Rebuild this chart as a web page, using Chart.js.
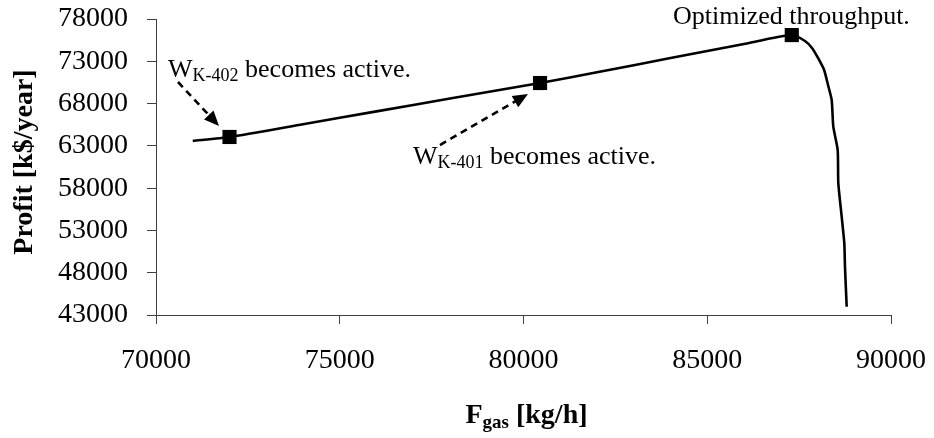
<!DOCTYPE html>
<html>
<head>
<meta charset="utf-8">
<script src="https://cdn.jsdelivr.net/npm/chart.js@4.4.0/dist/chart.umd.min.js"></script>
<style>
  html, body { margin: 0; padding: 0; background: #fff; }
</style>
</head>
<body>
<canvas id="profitChart" width="934" height="438"></canvas>
<script>
// gas feed [kg/h] and profit [k$/year] along the operating curve
var feedGas = [71000, 72000, 74000, 76000, 78000, 80450, 82000, 84000, 86000, 87300,
               87660, 87850, 88014, 88180, 88286, 88386, 88430, 88549, 88566, 88658, 88729, 88748, 88794];
var profit  = [63580, 64050, 65560, 67080, 68600, 70430, 71700, 73380, 75050, 76100,
               75400, 74570, 73390, 71970, 70200, 68420, 65265, 62510, 58608, 54623, 51513, 48711, 43981];

// marked operating points
var markFeed   = [72000, 80450, 87300];
var markProfit = [64050, 70430, 76100];

var xTicks = [70000, 75000, 80000, 85000, 90000];
var yTicks = [43000, 48000, 53000, 58000, 63000, 68000, 73000, 78000];

// text notes, anchored in data units (left end of the baseline)
var notes = [
  { main: 'W', sub: 'K-402', rest: ' becomes active.', x: 70327, y: 71141 },
  { main: 'W', sub: 'K-401', rest: ' becomes active.', x: 76993, y: 60854 },
  { main: 'Optimized throughput.', sub: '', rest: '', x: 84068, y: 77408 }
];

// dashed arrows, tail -> head, in data units
var arrows = [
  { x0: 70599, y0: 70550, x1: 71714, y1: 65347 },
  { x0: 77728, y0: 63101, x1: 80122, y1: 69131 }
];

var serif = "'Liberation Serif', 'Times New Roman', serif";

var curvePts = feedGas.map(function (f, i) { return { x: f, y: profit[i] }; });
var markPts = markFeed.map(function (f, i) { return { x: f, y: markProfit[i] }; });

function drawArrow(ctx, ax, ay, bx, by) {
  var ang = Math.atan2(by - ay, bx - ax);
  var headLen = 15, headHalf = 6.5;
  var ex = bx - Math.cos(ang) * (headLen - 2);
  var ey = by - Math.sin(ang) * (headLen - 2);
  ctx.save();
  ctx.strokeStyle = '#000';
  ctx.lineWidth = 2.6;
  ctx.setLineDash([7, 5]);
  ctx.beginPath();
  ctx.moveTo(ax, ay);
  ctx.lineTo(ex, ey);
  ctx.stroke();
  ctx.setLineDash([]);
  var bxc = bx - Math.cos(ang) * headLen;
  var byc = by - Math.sin(ang) * headLen;
  ctx.fillStyle = '#000';
  ctx.beginPath();
  ctx.moveTo(bx, by);
  ctx.lineTo(bxc + Math.sin(ang) * headHalf, byc - Math.cos(ang) * headHalf);
  ctx.lineTo(bxc - Math.sin(ang) * headHalf, byc + Math.cos(ang) * headHalf);
  ctx.closePath();
  ctx.fill();
  ctx.restore();
}

var notesPlugin = {
  id: 'notes',
  afterDraw: function (chart) {
    var ctx = chart.ctx;
    var xs = chart.scales.x, ys = chart.scales.y;

    arrows.forEach(function (a) {
      drawArrow(ctx, xs.getPixelForValue(a.x0), ys.getPixelForValue(a.y0),
                     xs.getPixelForValue(a.x1), ys.getPixelForValue(a.y1));
    });

    ctx.save();
    ctx.fillStyle = '#000';
    ctx.textBaseline = 'alphabetic';
    ctx.textAlign = 'left';
    notes.forEach(function (n) {
      var px = xs.getPixelForValue(n.x), py = ys.getPixelForValue(n.y);
      ctx.font = '26px ' + serif;
      ctx.fillText(n.main, px, py);
      px += ctx.measureText(n.main).width;
      if (n.sub) {
        ctx.font = '18px ' + serif;
        ctx.fillText(n.sub, px, py + 4);
        px += ctx.measureText(n.sub).width;
      }
      if (n.rest) {
        ctx.font = '26px ' + serif;
        ctx.fillText(n.rest, px, py);
      }
    });

    // x axis title with subscript
    var big = 'bold 28px ' + serif, small = 'bold 19px ' + serif;
    ctx.font = big;
    var wF = ctx.measureText('F').width, wR = ctx.measureText(' [kg/h]').width;
    ctx.font = small;
    var wS = ctx.measureText('gas').width;
    var cx = (chart.chartArea.left + chart.chartArea.right) / 2 + 3;
    var sx = cx - (wF + wS + wR) / 2, by = 423;
    ctx.font = big;
    ctx.fillText('F', sx, by);
    ctx.font = small;
    ctx.fillText('gas', sx + wF, by + 5);
    ctx.font = big;
    ctx.fillText(' [kg/h]', sx + wF + wS, by);

    // y axis title
    ctx.translate(25, 162);
    ctx.rotate(-Math.PI / 2);
    ctx.textAlign = 'center';
    ctx.textBaseline = 'middle';
    ctx.font = big;
    ctx.fillText('Profit [k$/year]', 0, 0);
    ctx.restore();
  }
};

new Chart(document.getElementById('profitChart').getContext('2d'), {
  type: 'scatter',
  data: {
    datasets: [
      {
        data: markPts,
        showLine: false,
        pointStyle: 'rect',
        pointRadius: 10,
        pointBackgroundColor: '#000',
        pointBorderColor: '#000',
        pointBorderWidth: 0
      },
      {
        data: curvePts,
        showLine: true,
        borderColor: '#000',
        borderWidth: 2.6,
        tension: 0.2,
        pointRadius: 0,
        fill: false
      }
    ]
  },
  plugins: [notesPlugin],
  options: {
    responsive: false,
    animation: false,
    devicePixelRatio: 1,
    layout: { padding: { top: 19, right: 43, left: 0, bottom: 0 } },
    plugins: {
      legend: { display: false },
      tooltip: { enabled: false }
    },
    scales: {
      x: {
        type: 'linear',
        min: 70000,
        max: 90000,
        afterBuildTicks: function (s) { s.ticks = xTicks.map(function (v) { return { value: v }; }); },
        afterFit: function (s) { s.height = 123; s.paddingLeft = 0; s.paddingRight = 0; },
        grid: { drawOnChartArea: false, drawTicks: true, tickLength: 9, color: '#404040' },
        border: { color: '#404040', width: 1 },
        ticks: {
          color: '#000',
          padding: 20,
          maxRotation: 0,
          font: { family: serif, size: 28 },
          callback: function (v) { return String(v); }
        }
      },
      y: {
        type: 'linear',
        min: 43000,
        max: 78000,
        afterBuildTicks: function (s) { s.ticks = yTicks.map(function (v) { return { value: v }; }); },
        afterFit: function (s) { s.width = 156; s.paddingTop = 0; s.paddingBottom = 0; },
        grid: { drawOnChartArea: false, drawTicks: true, tickLength: 9, color: '#404040' },
        border: { color: '#404040', width: 1 },
        ticks: {
          color: '#000',
          padding: 19,
          font: { family: serif, size: 28 },
          callback: function (v) { return String(v); }
        }
      }
    }
  }
});
</script>
</body>
</html>
